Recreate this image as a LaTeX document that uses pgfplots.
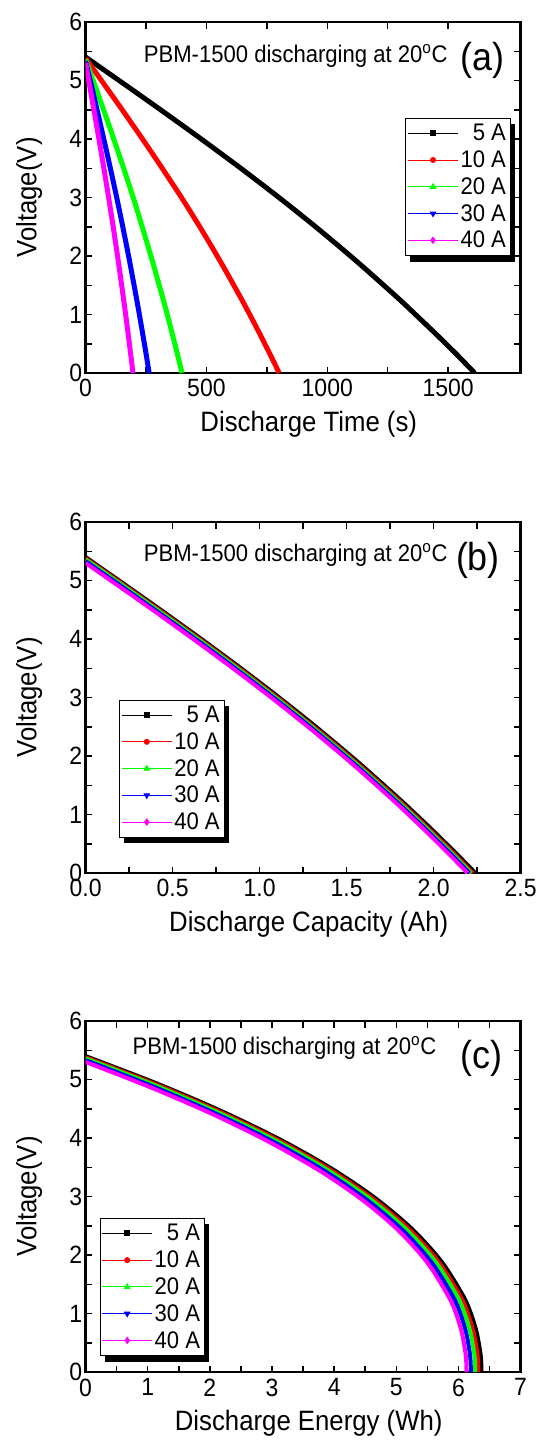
\documentclass[border=0pt]{standalone}
\usepackage{fontspec}
\setmainfont{Liberation Sans}[FakeStretch=0.92]
\usepackage{pgfplots}
\pgfplotsset{compat=1.18}
\usepackage{pgfplotstable}

\definecolor{lgreen}{RGB}{0,255,0}
\definecolor{lmag}{RGB}{255,0,255}
\definecolor{lblue}{RGB}{0,0,255}
\definecolor{lred}{RGB}{255,0,0}

% columns: time (s), capacity (Ah), energy (Wh), voltage (V)
\pgfplotstableread{
t q e v
0 0 0 5.40
161 0.224 1.140 4.935
322 0.448 2.175 4.465
483 0.672 3.108 3.986
644 0.896 3.933 3.494
805 1.120 4.647 2.984
966 1.344 5.247 2.451
1127 1.568 5.726 1.890
1288 1.792 6.078 1.298
1368 1.904 6.204 0.988
1449 2.016 6.295 0.669
1530 2.128 6.351 0.340
1570 2.184 6.366 0.171
1610 2.240 6.370 0
}\tabfive
\pgfplotstableread{
t q e v
0 0 0 5.38
80 0.2225 1.131 4.917
160 0.445 2.158 4.449
240 0.6675 3.084 3.972
320 0.890 3.902 3.481
401 1.1125 4.610 2.972
481 1.335 5.206 2.441
561 1.5575 5.681 1.883
641 1.780 6.031 1.293
681 1.891 6.156 0.985
721 2.0025 6.245 0.667
761 2.114 6.301 0.339
781 2.169 6.316 0.171
801 2.225 6.320 0
}\tabten
\pgfplotstableread{
t q e v
0 0 0 5.36
40 0.2215 1.122 4.899
80 0.443 2.141 4.432
120 0.6645 3.059 3.957
160 0.886 3.871 3.468
200 1.1075 4.574 2.961
239 1.329 5.165 2.432
279 1.5505 5.636 1.876
319 1.772 5.983 1.288
339 1.883 6.107 0.981
359 1.9935 6.196 0.664
379 2.104 6.251 0.338
389 2.160 6.266 0.170
399 2.215 6.270 0
}\tabtwenty
\pgfplotstableread{
t q e v
0 0 0 5.33
26.3 0.2205 1.109 4.871
52.6 0.441 2.117 4.407
78.9 0.6615 3.025 3.935
105.2 0.882 3.828 3.449
131.5 1.1025 4.523 2.945
157.8 1.323 5.107 2.419
184.1 1.5435 5.573 1.866
210.4 1.764 5.916 1.281
223.6 1.874 6.039 0.975
236.7 1.9845 6.127 0.660
249.9 2.095 6.181 0.336
256.4 2.150 6.196 0.169
263 2.205 6.200 0
}\tabthirty
\pgfplotstableread{
t q e v
0 0 0 5.30
19.6 0.2195 1.097 4.844
39.2 0.439 2.093 4.383
58.8 0.6585 2.991 3.912
78.4 0.878 3.785 3.429
98 1.0975 4.472 2.928
117.6 1.317 5.049 2.405
137.2 1.5365 5.510 1.855
156.8 1.756 5.849 1.274
166.6 1.866 5.971 0.970
176.4 1.9755 6.058 0.657
186.2 2.085 6.112 0.334
191.1 2.140 6.126 0.168
196 2.195 6.130 0
}\tabforty

\pgfplotsset{
  panel/.style={
    scale only axis, width=435pt, height=351pt,
    ymin=0, ymax=6, ytick={0,...,6}, minor y tick num=1,
    tick align=inside, major tick length=6.5pt, minor tick length=6.5pt,
    every tick/.style={black, line width=1.5pt},
    axis line style={line width=2.5pt},
    tick label style={font=\fontsize{25}{25}\selectfont},
    xticklabel style={yshift=-3pt},
    /pgf/number format/assume math mode=true,
    /pgf/number format/1000 sep={},
    label style={font=\fontsize{28}{28}\selectfont},
    ylabel={Voltage(V)},
    ylabel style={at={(axis description cs:-0.13,0.5)}, anchor=center},
    xlabel style={at={(axis description cs:0.513,-0.145)}, anchor=center},
    legend cell align=right,
    legend style={font=\fontsize{24}{24}\selectfont, draw=black, fill=white,
      inner xsep=2pt, inner ysep=4pt, row sep=4.5pt, anchor=north west},
    legend image code/.code={\draw[mark repeat=2, mark phase=2, #1]
      plot coordinates {(0pt,0pt) (25pt,0pt) (50pt,0pt)};},
  },
  curve/.style={line width=5pt, line join=round, no markers, smooth, forget plot},
}

\newcommand{\legendentries}{%
  \addlegendimage{black, line width=1pt, mark=square*, mark size=2.5pt}
  \addlegendentry{5 A}
  \addlegendimage{lred, line width=1pt, mark=*, mark size=2.5pt}
  \addlegendentry{10 A}
  \addlegendimage{lgreen, line width=1pt, mark=triangle*, mark size=3pt}
  \addlegendentry{20 A}
  \addlegendimage{lblue, line width=1pt, mark=triangle*, mark size=3pt, mark options={rotate=180}}
  \addlegendentry{30 A}
  \addlegendimage{lmag, line width=1pt, mark=diamond*, mark size=3pt}
  \addlegendentry{40 A}
}
% black shadow to the lower right of a named legend
\newcommand{\legshadow}[1]{%
  \fill[black] ([yshift=-6pt]#1.north east) rectangle ([xshift=5pt,yshift=-6pt]#1.south east);
  \fill[black] ([xshift=5pt]#1.south west) rectangle ([xshift=5pt,yshift=-6pt]#1.south east);
}

\begin{document}
\begin{tikzpicture}

% (a) voltage vs time
\begin{axis}[panel, at={(0,0)},
  xmin=0, xmax=1800, xtick={0,500,1000,1500}, minor x tick num=1,
  xlabel={Discharge Time (s)},
  legend style={at={(0.735,0.726)}, name=lega}]
\addplot[curve, black] table[x=t, y=v] {\tabfive};
\addplot[curve, lred] table[x=t, y=v] {\tabten};
\addplot[curve, lgreen] table[x=t, y=v] {\tabtwenty};
\addplot[curve, lblue] table[x=t, y=v] {\tabthirty};
\addplot[curve, lmag] table[x=t, y=v] {\tabforty};
\legendentries
\node[font=\fontsize{24}{24}\selectfont] at (rel axis cs:0.483,0.902) {PBM-1500 discharging at 20\textsuperscript{o}C};
\node[font=\fontsize{39}{39}\selectfont] at (rel axis cs:0.913,0.891) {(a)};
\end{axis}
\legshadow{lega}

% (b) voltage vs capacity
\begin{axis}[panel, at={(0,-500pt)},
  xmin=0, xmax=2.5, xtick={0,0.5,...,2.5}, minor x tick num=1,
  xticklabel style={/pgf/number format/fixed, /pgf/number format/fixed zerofill, /pgf/number format/precision=1},
  xlabel={Discharge Capacity (Ah)},
  legend style={at={(0.077,0.493)}, name=legb}]
\addplot[curve, line width=4pt, black] table[x=q, y=v] {\tabfive};
\addplot[curve, line width=4pt, lred] table[x=q, y=v] {\tabten};
\addplot[curve, line width=4pt, lgreen] table[x=q, y=v] {\tabtwenty};
\addplot[curve, line width=4pt, lblue] table[x=q, y=v] {\tabthirty};
\addplot[curve, line width=4pt, lmag] table[x=q, y=v] {\tabforty};
\legendentries
\node[font=\fontsize{24}{24}\selectfont] at (rel axis cs:0.483,0.905) {PBM-1500 discharging at 20\textsuperscript{o}C};
\node[font=\fontsize{39}{39}\selectfont] at (rel axis cs:0.902,0.891) {(b)};
\end{axis}
\legshadow{legb}

% (c) voltage vs energy
\begin{axis}[panel, at={(0,-999pt)},
  xmin=0, xmax=7, xtick={0,...,7}, minor x tick num=1,
  xlabel={Discharge Energy (Wh)},
  legend style={at={(0.032,0.438)}, name=legc}]
\addplot[curve, line width=4pt, black] table[x=e, y=v] {\tabfive};
\addplot[curve, line width=4pt, lred] table[x=e, y=v] {\tabten};
\addplot[curve, line width=4pt, lgreen] table[x=e, y=v] {\tabtwenty};
\addplot[curve, line width=4pt, lblue] table[x=e, y=v] {\tabthirty};
\addplot[curve, line width=4pt, lmag] table[x=e, y=v] {\tabforty};
\legendentries
\node[font=\fontsize{24}{24}\selectfont] at (rel axis cs:0.457,0.922) {PBM-1500 discharging at 20\textsuperscript{o}C};
\node[font=\fontsize{39}{39}\selectfont] at (rel axis cs:0.91,0.894) {(c)};
\end{axis}
\legshadow{legc}

\pgfresetboundingbox
\path (-85.6pt,-1068pt) rectangle (455.4pt,373pt);
\end{tikzpicture}
\end{document}
